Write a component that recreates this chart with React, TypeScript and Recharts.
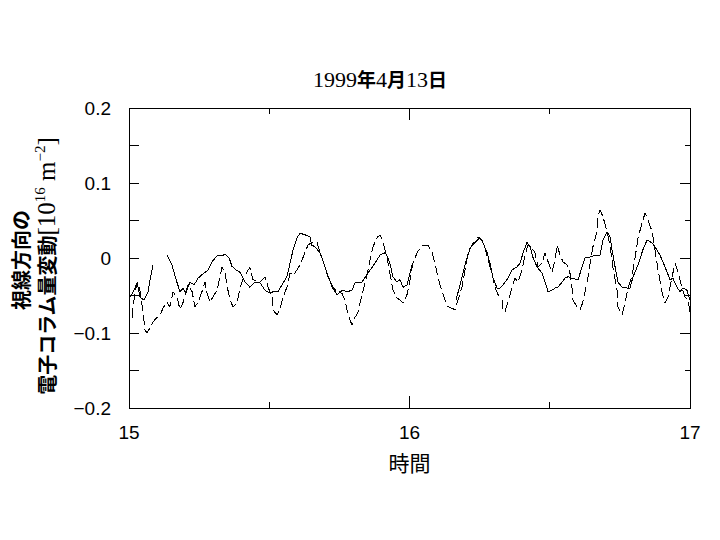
import { LineChart, Line, XAxis, YAxis, ReferenceArea } from 'recharts';

// time in hours (UT), values in 10^16 m^-2
const solidTime = [
  15.004, 15.018, 15.029, 15.039, 15.053, 15.068, 15.078, 15.086, 15.111,
  15.135, 15.153, 15.168, 15.182, 15.193, 15.203, 15.217, 15.232, 15.246, 15.264,
  15.282, 15.296, 15.307, 15.317, 15.332, 15.342, 15.357, 15.367, 15.381, 15.396,
  15.414, 15.431, 15.449, 15.467, 15.485, 15.503, 15.513, 15.531, 15.545, 15.563,
  15.574, 15.585, 15.599, 15.61, 15.627, 15.645, 15.652, 15.663, 15.681, 15.699,
  15.709, 15.724, 15.742, 15.752, 15.763, 15.777, 15.795, 15.806, 15.831, 15.852,
  15.877, 15.895, 15.913, 15.923, 15.93, 15.941, 15.955, 15.966, 15.977, 15.991,
  16.002, 16.009, 16.073,
  16.166, 16.18, 16.198, 16.216, 16.234, 16.251, 16.262, 16.276, 16.287, 16.298,
  16.312, 16.323, 16.333, 16.351, 16.365, 16.383, 16.394, 16.405, 16.419, 16.43,
  16.44, 16.455, 16.472, 16.483, 16.494, 16.508, 16.519, 16.529, 16.544, 16.554,
  16.565, 16.579, 16.601, 16.615, 16.626, 16.643, 16.661, 16.679, 16.69, 16.704,
  16.715, 16.722, 16.733, 16.743, 16.758, 16.775, 16.786, 16.797, 16.815, 16.832,
  16.847, 16.865, 16.875, 16.893, 16.911, 16.929, 16.939, 16.954, 16.964, 16.975,
  16.989, 17.0,
];
const solidValue = [
  -0.052, -0.043, -0.033, -0.052, -0.056, -0.045, -0.023, -0.009, null,
  0.004, -0.009, -0.029, -0.045, -0.04, -0.047, -0.032, -0.036, -0.027, -0.021,
  -0.016, -0.005, 0.0, 0.004, 0.003, 0.005, 0.0, -0.011, -0.016, -0.019,
  -0.032, -0.039, -0.032, -0.033, -0.043, -0.047, -0.045, -0.045, -0.036, -0.025,
  -0.007, 0.011, 0.027, 0.033, 0.031, 0.028, 0.017, 0.015, 0.007, -0.012,
  -0.023, -0.039, -0.049, -0.045, -0.043, -0.045, -0.043, -0.033, -0.032, -0.02,
  -0.007, 0.004, 0.007, 0.001, -0.007, -0.025, -0.032, -0.029, -0.039, -0.036,
  -0.02, -0.009, null,
  -0.056, -0.036, -0.009, 0.013, 0.021, 0.027, 0.02, 0.008, -0.007, -0.027,
  -0.04, -0.04, -0.036, -0.027, -0.016, -0.012, -0.007, 0.007, 0.021, 0.015,
  0.001, -0.012, -0.02, -0.032, -0.045, -0.043, -0.04, -0.039, -0.032, -0.027,
  -0.025, -0.027, -0.029, -0.012, 0.0, 0.001, 0.004, 0.004, 0.024, 0.035,
  0.028, 0.011, -0.012, -0.032, -0.039, -0.04, -0.04, -0.025, -0.009, 0.011,
  0.024, 0.02, 0.015, 0.004, -0.012, -0.029, -0.027, -0.039, -0.045, -0.04,
  -0.043, -0.056,
];

const dashedTime = [
  15.011, 15.014, 15.021, 15.029, 15.039, 15.05, 15.057, 15.064, 15.075, 15.086,
  15.1, 15.111, 15.121, 15.135, 15.146, 15.157, 15.171, 15.182, 15.193, 15.207,
  15.21, 15.225, 15.235, 15.246, 15.26, 15.271, 15.278, 15.289, 15.299, 15.314,
  15.324, 15.332, 15.342, 15.349, 15.36, 15.371, 15.385, 15.396, 15.406, 15.424,
  15.431, 15.442, 15.467, 15.485, 15.496, 15.51, 15.513, 15.528, 15.538, 15.549,
  15.563, 15.574, 15.585, 15.599, 15.61, 15.627, 15.638, 15.652, 15.67, 15.681,
  15.699, 15.709, 15.727, 15.742, 15.759, 15.77, 15.777, 15.788, 15.795, 15.806,
  15.816, 15.824, 15.834, 15.848, 15.859, 15.87, 15.884, 15.895, 15.906, 15.92,
  15.93, 15.941, 15.955, 15.966, 15.977, 15.991, 16.002, 16.012, 16.027, 16.037,
  16.048, 16.066, 16.08, 16.091, 16.102, 16.116, 16.127, 16.137, 16.151, 16.162,
  16.173, 16.187, 16.198, 16.209, 16.223, 16.234, 16.244, 16.258, 16.269, 16.28,
  16.294, 16.305, 16.316, 16.33, 16.333, 16.34, 16.351, 16.365, 16.376, 16.387,
  16.401, 16.412, 16.422, 16.437, 16.447, 16.458, 16.472, 16.483, 16.494, 16.508,
  16.519, 16.526, 16.537, 16.547, 16.561, 16.572, 16.579, 16.583, 16.597, 16.608,
  16.618, 16.636, 16.643, 16.654, 16.668, 16.672, 16.679, 16.69, 16.704, 16.715,
  16.725, 16.74, 16.743, 16.758, 16.768, 16.779, 16.793, 16.804, 16.815, 16.829,
  16.84, 16.85, 16.865, 16.875, 16.886, 16.9, 16.911, 16.922, 16.936, 16.947,
  16.957, 16.972, 16.982, 16.993, 17.0,
];
const dashedValue = [
  -0.08, -0.065, -0.049, -0.032, -0.043, -0.073, -0.096, -0.1, -0.093, -0.085,
  -0.079, -0.076, -0.067, -0.059, -0.065, -0.045, -0.052, -0.069, -0.059, -0.04,
  -0.036, -0.045, -0.065, -0.059, -0.045, -0.032, -0.047, -0.059, -0.052, -0.043,
  -0.025, -0.012, -0.019, -0.036, -0.056, -0.065, -0.06, -0.04, -0.029, -0.016,
  -0.013, -0.029, -0.032, -0.025, -0.039, -0.052, -0.069, -0.076, -0.069, -0.052,
  -0.039, -0.02, -0.023, -0.016, -0.009, 0.007, 0.017, 0.021, 0.021, 0.008,
  -0.012, -0.025, -0.039, -0.045, -0.047, -0.056, -0.069, -0.083, -0.089, -0.079,
  -0.073, -0.059, -0.045, -0.023, -0.003, 0.015, 0.027, 0.031, 0.02, 0.001,
  -0.02, -0.043, -0.053, -0.056, -0.06, -0.049, -0.029, -0.007, 0.007, 0.013,
  0.017, 0.017, 0.008, -0.007, -0.027, -0.045, -0.056, -0.065, -0.067, -0.069,
  -0.056, -0.039, -0.016, 0.007, 0.017, 0.024, 0.028, 0.024, 0.013, -0.003,
  -0.02, -0.039, -0.049, -0.056, -0.069, -0.072, -0.059, -0.04, -0.027, -0.032,
  -0.016, 0.004, 0.017, 0.013, 0.007, -0.012, -0.007, 0.007, -0.005, -0.019,
  -0.003, 0.017, 0.004, -0.005, -0.009, -0.02, -0.039, -0.056, -0.065, -0.069,
  -0.059, -0.027, -0.009, 0.015, 0.035, 0.055, 0.064, 0.055, 0.035, 0.017,
  -0.012, -0.043, -0.065, -0.076, -0.06, -0.04, -0.025, 0.0, 0.027, 0.047,
  0.06, 0.051, 0.035, 0.011, -0.016, -0.045, -0.06, -0.052, -0.025, -0.007,
  -0.019, -0.04, -0.052, -0.056, -0.073,
];

const xTicks = [15, 15.5, 16, 16.5, 17];
const xLabelTicks = [15, 16, 17];
const xTickLabels = ['15', '16', '17'];
const yTicks = [-0.2, -0.15, -0.1, -0.05, 0, 0.05, 0.1, 0.15, 0.2];
const yLabelTicks = [0.2, 0.1, 0, -0.1, -0.2];
const yTickLabels = ['0.2', '0.1', '0', '\u22120.1', '\u22120.2'];

const solidData = solidTime.map((t, i) => ({ t, v: solidValue[i] }));
const dashedData = dashedTime.map((t, i) => ({ t, v: dashedValue[i] }));

const PLOT_W = 561;
const PLOT_H = 300;
const tickFont = '"Liberation Sans", Arial, sans-serif';
const cjkFont = '"Noto Sans CJK JP", sans-serif';
const serifFont = '"Liberation Serif", "Times New Roman", serif';

const findIdx = (arr: number[], v: number) => arr.findIndex((a) => Math.abs(a - v) < 1e-9);

const BottomTick = (props: any) => {
  const { x, y, payload } = props;
  const v = payload.value;
  const len = Number.isInteger(v) ? 12 : 6;
  const idx = findIdx(xLabelTicks, v);
  return (
    <g>
      <line x1={x} x2={x} y1={y} y2={y - len} stroke="#000" shapeRendering="crispEdges" />
      <line x1={x} x2={x} y1={y - PLOT_H} y2={y - PLOT_H + len} stroke="#000" shapeRendering="crispEdges" />
      {idx >= 0 && (
        <text x={x} y={y + 31} textAnchor="middle" fontFamily={tickFont} fontSize={19} fill="#000">
          {xTickLabels[idx]}
        </text>
      )}
    </g>
  );
};

const LeftTick = (props: any) => {
  const { x, y, payload } = props;
  const idx = findIdx(yLabelTicks, payload.value);
  const rightLen = idx >= 0 ? 10 : 5;
  return (
    <g>
      <line x1={x} x2={x + 10} y1={y} y2={y} stroke="#000" shapeRendering="crispEdges" />
      <line x1={x + PLOT_W} x2={x + PLOT_W - rightLen} y1={y} y2={y} stroke="#000" shapeRendering="crispEdges" />
      {idx >= 0 && (
        <text x={x - 18} y={y + 7} textAnchor="end" fontFamily={tickFont} fontSize={19} fill="#000">
          {yTickLabels[idx]}
        </text>
      )}
    </g>
  );
};

const YLabel = (props: any) => {
  const { viewBox } = props;
  const cy = viewBox.y + viewBox.height / 2;
  return (
    <g>
      <g transform={`translate(29, ${cy + 2}) rotate(-90)`}>
        <text x={0} y={0} textAnchor="middle" fontFamily={cjkFont} fontWeight={700} fontSize={20} fill="#000">
          視線方向の
        </text>
      </g>
      <g transform={`translate(55, ${cy + 8}) rotate(-90)`}>
        <text x={0} y={0} textAnchor="middle" fill="#000">
          <tspan fontFamily={cjkFont} fontWeight={700} fontSize={20}>電子コラム量変動</tspan>
          <tspan fontFamily={serifFont} fontSize={25}>[10</tspan>
          <tspan fontFamily={serifFont} fontSize={15} dy={-10}>16</tspan>
          <tspan fontFamily={serifFont} fontSize={25} dy={10}> m</tspan>
          <tspan fontFamily={serifFont} fontSize={15} dy={-10}>{'\u22122'}</tspan>
          <tspan fontFamily={serifFont} fontSize={25} dy={10}>]</tspan>
        </text>
      </g>
    </g>
  );
};

const XLabel = (props: any) => {
  const { viewBox } = props;
  return (
    <text x={viewBox.x + viewBox.width / 2} y={viewBox.y + 63} textAnchor="middle" fontFamily={cjkFont} fontSize={21} fill="#000">
      時間
    </text>
  );
};

const App = () => {
  return (
    <div style={{ position: 'absolute', left: 0, top: 0, width: 720, height: 540, background: '#fff' }}>
      <svg width={720} height={100} style={{ position: 'absolute', left: 0, top: 0 }}>
        <text x={380} y={87} textAnchor="middle" fill="#000">
          <tspan fontFamily={serifFont} fontSize={22}>1999</tspan>
          <tspan fontFamily={cjkFont} fontWeight={700} fontSize={19}>年</tspan>
          <tspan fontFamily={serifFont} fontSize={22}>4</tspan>
          <tspan fontFamily={cjkFont} fontWeight={700} fontSize={19}>月</tspan>
          <tspan fontFamily={serifFont} fontSize={22}>13</tspan>
          <tspan fontFamily={cjkFont} fontWeight={700} fontSize={19}>日</tspan>
        </text>
      </svg>
      <LineChart width={720} height={540} margin={{ top: 108, right: 30, bottom: 72, left: 0 }}>
        <XAxis
          type="number"
          dataKey="t"
          domain={[15, 17]}
          ticks={xTicks}
          interval={0}
          allowDataOverflow
          height={60}
          tickSize={0}
          tickMargin={0}
          tickLine={false}
          axisLine={false}
          tick={(p: any) => <BottomTick {...p} />}
          label={{ content: (p: any) => <XLabel {...p} /> }}
        />
        <YAxis
          type="number"
          domain={[-0.2, 0.2]}
          ticks={yTicks}
          interval={0}
          allowDataOverflow
          width={129}
          tickSize={0}
          tickMargin={0}
          tickLine={false}
          axisLine={false}
          tick={(p: any) => <LeftTick {...p} />}
          label={{ content: (p: any) => <YLabel {...p} /> }}
        />
        <ReferenceArea x1={15} x2={17} y1={-0.2} y2={0.2} fill="none" stroke="#000" strokeWidth={1} shapeRendering="crispEdges" ifOverflow="visible" />
        <Line
          data={solidData}
          dataKey="v"
          type="linear"
          stroke="#000"
          strokeWidth={1}
          dot={false}
          activeDot={false}
          connectNulls={false}
          shapeRendering="crispEdges"
          isAnimationActive={false}
        />
        <Line
          data={dashedData}
          dataKey="v"
          type="linear"
          stroke="#000"
          strokeWidth={1}
          strokeDasharray="10 4"
          dot={false}
          activeDot={false}
          connectNulls={false}
          shapeRendering="crispEdges"
          isAnimationActive={false}
        />
      </LineChart>
    </div>
  );
};

export default App;
